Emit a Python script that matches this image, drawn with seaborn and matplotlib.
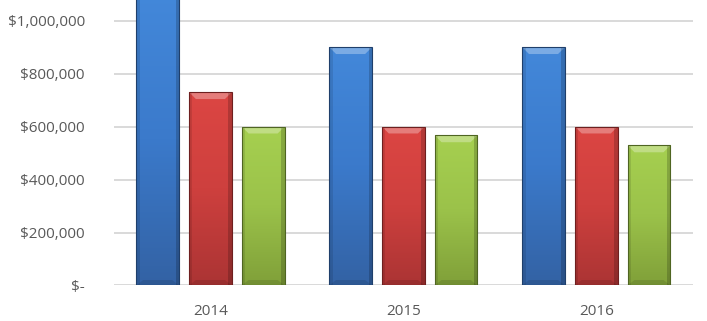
import numpy as np
import pandas as pd
import matplotlib
matplotlib.use("Agg")
import matplotlib.pyplot as plt
import seaborn as sns
from matplotlib.colors import LinearSegmentedColormap
from matplotlib.ticker import FuncFormatter

years = ["2014", "2015", "2016"]
series = ["Series A", "Series B", "Series C"]
values_a = [1100000, 900000, 900000]
values_b = [730000, 600000, 600000]
values_c = [600000, 567000, 529000]
yticks = [0, 200000, 400000, 600000, 800000, 1000000]

df = pd.DataFrame({
    "year": years * 3,
    "series": [series[0]] * 3 + [series[1]] * 3 + [series[2]] * 3,
    "value": values_a + values_b + values_c,
})

base_colors = ["#3b7acb", "#ce403e", "#9bc24a"]
top_colors = ["#4388da", "#dc4643", "#a6d050"]
bot_colors = ["#3362a4", "#ab3434", "#80a039"]
edge_colors = ["#1f3f6b", "#6e1f1f", "#4f6522"]

sns.set_theme(style="white")
plt.rcParams["font.family"] = ["Open Sans", "DejaVu Sans"]

fig = plt.figure(figsize=(7.07, 3.21), dpi=100)
ax = fig.add_axes([0.1612, 0.1106, 0.8186, 0.8894])

sns.barplot(data=df, x="year", y="value", hue="series", palette=base_colors,
            width=0.82, gap=0.19, ax=ax, legend=False, errorbar=None,
            saturation=1, zorder=3)

ax.set_ylim(0, 1078000)
ax.set_xlim(-0.5, 2.5)
ax.set_yticks(yticks)
ax.yaxis.set_major_formatter(FuncFormatter(lambda v, p: "$-" if v == 0 else f"${v:,.0f}"))
ax.grid(axis="y", color="#d9d9d9", linewidth=1.4, zorder=0)
ax.grid(axis="x", visible=False)
for s in ax.spines.values():
    s.set_visible(False)
ax.tick_params(axis="both", length=0, labelsize=11, labelcolor="#595959")
ax.tick_params(axis="y", pad=21)
ax.tick_params(axis="x", pad=13)
ax.set_xlabel("")
ax.set_ylabel("")

# gradient + bevel decoration on each bar
for i, patch in enumerate(ax.patches):
    si = i // 3
    x0, y0 = patch.get_x(), patch.get_y()
    w, h = patch.get_width(), patch.get_height()
    cmap = LinearSegmentedColormap.from_list("g", [bot_colors[si], base_colors[si], top_colors[si]])
    grad = np.linspace(0, 1, 256).reshape(-1, 1)
    im = ax.imshow(grad, extent=(x0, x0 + w, y0, y0 + h), origin="lower",
                   cmap=cmap, aspect="auto", zorder=3.5)
    im.set_clip_path(patch)
    patch.set_edgecolor(edge_colors[si])
    patch.set_linewidth(0.8)
    patch.set_zorder(4)
    patch.set_facecolor("none")
    bev_h = 26000
    bev_w = w * 0.16
    top = y0 + h
    if top < 1078000:
        ax.fill([x0, x0 + w, x0 + w - bev_w, x0 + bev_w],
                [top, top, top - bev_h, top - bev_h],
                color="white", alpha=0.30, zorder=3.8, lw=0)
    # bottom bevel
    ax.fill([x0, x0 + w, x0 + w - bev_w, x0 + bev_w],
            [y0, y0, y0 + bev_h * 0.8, y0 + bev_h * 0.8],
            color="black", alpha=0.10, zorder=3.8, lw=0)
    # side shading
    ax.fill([x0, x0 + bev_w * 0.5, x0 + bev_w * 0.5, x0],
            [y0, y0, top, top], color="black", alpha=0.10, zorder=3.8, lw=0)
    ax.fill([x0 + w - bev_w * 0.5, x0 + w, x0 + w, x0 + w - bev_w * 0.5],
            [y0, y0, top, top], color="black", alpha=0.18, zorder=3.8, lw=0)

ax.set_xlim(-0.5, 2.5)
ax.set_ylim(0, 1078000)
fig.savefig("out.png", dpi=100)
